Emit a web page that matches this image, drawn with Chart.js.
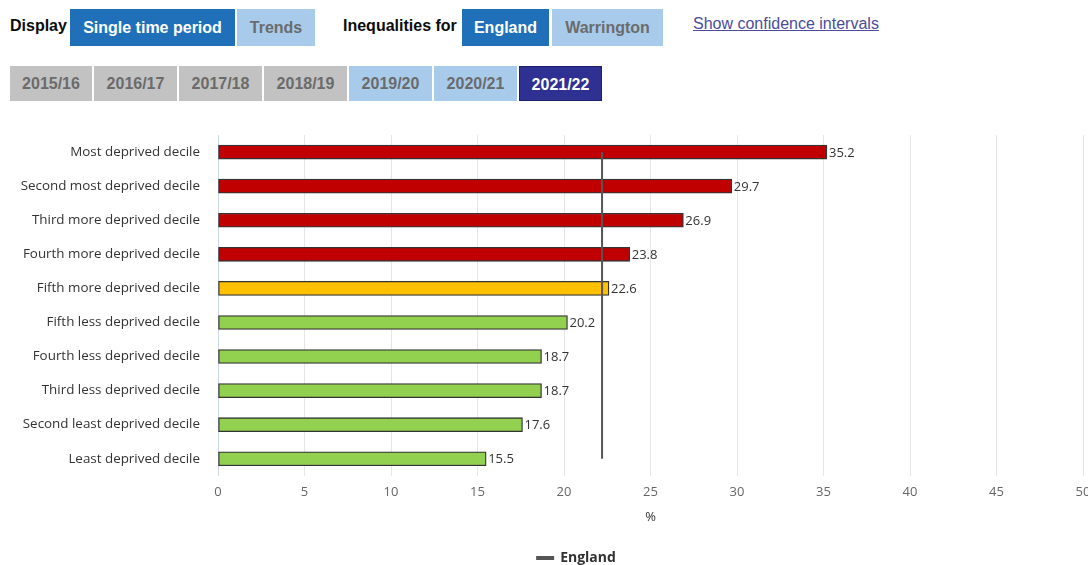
<!DOCTYPE html>
<html>
<head>
<meta charset="utf-8">
<script src="https://cdn.jsdelivr.net/npm/chart.js@4/dist/chart.umd.min.js"></script>
<style>
  html, body { margin:0; padding:0; width:1088px; height:565px; overflow:hidden; background:#fff; font-family: "Liberation Sans", Arial, sans-serif; }
  .lbl { position:absolute; font-weight:bold; font-size:16px; color:#0b0c0c; }
  .btn { position:absolute; height:37px; line-height:37px; text-align:center; font-weight:bold; font-size:16px; box-sizing:border-box; }
  .dark { background:#1f70b8; color:#fff; }
  .light { background:#a8cbec; color:#6b6b6b; }
  .grey { background:#c2c2c2; color:#6b6b6b; }
  .navy { background:#2e3192; color:#fff; border:1px solid #1d1f6e; }
  .row2 { height:35px; line-height:35px; top:66px; font-size:16px; }
  .link { position:absolute; left:693px; top:15px; font-size:16px; color:#4c4c9c; text-decoration:underline; }
  #wrap { position:absolute; left:0; top:117px; width:1100px; height:458px; }
  canvas { display:block; }
</style>
</head>
<body>
<div class="lbl" style="left:10px; top:17px;">Display</div>
<div class="btn dark" style="left:70px; top:9px; width:165px;">Single time period</div>
<div class="btn light" style="left:237px; top:9px; width:78px;">Trends</div>
<div class="lbl" style="left:343px; top:17px;">Inequalities for</div>
<div class="btn dark" style="left:462px; top:9px; width:87px;">England</div>
<div class="btn light" style="left:552px; top:9px; width:111px;">Warrington</div>
<div class="link">Show confidence intervals</div>
<div class="btn grey row2" style="left:10px; width:82px;">2015/16</div>
<div class="btn grey row2" style="left:94px; width:83px;">2016/17</div>
<div class="btn grey row2" style="left:179px; width:83px;">2017/18</div>
<div class="btn grey row2" style="left:264px; width:83px;">2018/19</div>
<div class="btn light row2" style="left:349px; width:83px;">2019/20</div>
<div class="btn light row2" style="left:434px; width:83px;">2020/21</div>
<div class="btn navy row2" style="left:519px; width:83px;">2021/22</div>
<div id="wrap"><canvas id="c" width="1100" height="458"></canvas></div>
<script>
const categories = [
  "Most deprived decile",
  "Second most deprived decile",
  "Third more deprived decile",
  "Fourth more deprived decile",
  "Fifth more deprived decile",
  "Fifth less deprived decile",
  "Fourth less deprived decile",
  "Third less deprived decile",
  "Second least deprived decile",
  "Least deprived decile"
];
const values = [35.2, 29.7, 26.9, 23.8, 22.6, 20.2, 18.7, 18.7, 17.6, 15.5];
const barColors = ["#c00000","#c00000","#c00000","#c00000","#ffc000","#92d050","#92d050","#92d050","#92d050","#92d050"];
const englandValue = 22.2;
const englandSeries = categories.map(() => englandValue);
const xTicks = [0, 5, 10, 15, 20, 25, 30, 35, 40, 45, 50];

const valueLabels = {
  id: 'valueLabels',
  afterDatasetsDraw(chart) {
    const ctx = chart.ctx;
    const meta = chart.getDatasetMeta(0);
    ctx.save();
    ctx.font = '13px "Open Sans", sans-serif';
    ctx.fillStyle = '#333';
    ctx.textAlign = 'left';
    ctx.textBaseline = 'middle';
    meta.data.forEach((bar, i) => {
      ctx.fillText(values[i].toFixed(1), bar.x + 2, bar.y + 1);
    });
    ctx.restore();
  }
};

const legendShift = {
  id: 'legendShift',
  afterLayout(chart) {
    if (chart.legend) { chart.legend.left += 35; chart.legend.right += 35; }
  }
};

new Chart(document.getElementById('c'), {
  data: {
    labels: categories,
    datasets: [
      {
        type: 'bar',
        label: 'Warrington',
        data: values,
        backgroundColor: barColors,
        borderColor: '#333',
        borderWidth: 1.3,
        borderSkipped: false,
        barThickness: 14,
        order: 2
      },
      {
        type: 'line',
        label: 'England',
        data: englandSeries,
        borderColor: '#555',
        backgroundColor: '#555',
        borderWidth: 2,
        pointRadius: 0,
        order: 1
      }
    ]
  },
  options: {
    indexAxis: 'y',
    responsive: false,
    animation: false,
    layout: { padding: { top: 2, right: 17, left: 0, bottom: 0 } },
    scales: {
      x: {
        min: 0, max: 50,
        afterBuildTicks(scale) { scale.ticks = xTicks.map(v => ({ value: v })); },
        grid: { color: '#e6e6e6', drawTicks: false },
        border: { display: false },
        ticks: { color: '#666', font: { family: '"Open Sans", sans-serif', size: 13 }, padding: 9 },
        title: { display: true, text: '%', color: '#333', font: { family: '"Open Sans", sans-serif', size: 13 }, padding: { top: 0, bottom: 16 } }
      },
      y: {
        afterFit(scale) { scale.width = 218; },
        grid: { display: false },
        border: { display: true, color: '#ccd6eb' },
        ticks: { color: '#333', font: { family: '"Open Sans", sans-serif', size: 13.4 }, padding: 10 }
      }
    },
    plugins: {
      tooltip: { enabled: false },
      legend: {
        position: 'bottom',
        labels: {
          filter: (item) => item.text === 'England',
          boxWidth: 16, boxHeight: 2,
          color: '#333',
          font: { family: '"Open Sans", sans-serif', size: 14, weight: 'bold' },
          padding: 10
        }
      }
    }
  },
  plugins: [valueLabels, legendShift]
});
</script>
</body>
</html>
